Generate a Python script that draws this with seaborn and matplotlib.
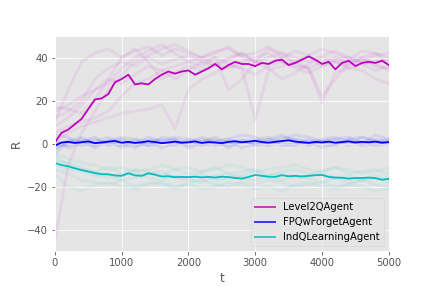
import numpy as np
import pandas as pd
import matplotlib
matplotlib.use('Agg')
import matplotlib.pyplot as plt
import seaborn as sns

plt.style.use('ggplot')

agents = ['Level2QAgent', 'FPQwForgetAgent', 'IndQLearningAgent']
colors = {'Level2QAgent': 'm', 'FPQwForgetAgent': 'b', 'IndQLearningAgent': 'c'}

# mean curves, every 100 steps
t_mean = list(range(0, 5001, 100))
level2_mean = [0.5, 5, 6.5, 9, 11.5, 16, 20.5, 21, 23, 28.5, 30, 32, 27.5, 28, 27.5,
               30, 32, 33.5, 32.5, 33.5, 34, 32, 33.5, 35, 37, 34.5, 36.5, 38, 37, 37,
               36, 37.5, 37, 38.5, 39, 36.5, 37.5, 39, 40.5, 39, 37, 38, 34.5, 37.5,
               38.5, 36, 37.5, 38, 37.5, 38.5, 36.5]
fpq_mean = [-1, 0.5, 0.8, 0.3, 0.6, 1.0, 0.2, 0.5, 0.9, 1.2, 0.4, 0.8, 0.3, 0.6, 1.1,
            0.7, 0.2, 0.5, 0.9, 0.4, 0.6, 1.0, 0.3, 0.7, 0.5, 0.2, 0.8, 1.1, 0.6, 0.9,
            1.3, 0.7, 0.4, 0.8, 1.2, 1.5, 0.9, 0.6, 0.3, 0.8, 0.5, 0.9, 0.4, 0.7, 1.0,
            0.5, 0.8, 0.6, 0.9, 0.4, 0.7]
indq_mean = [-9, -10, -10.6, -11.5, -12.3, -13, -13.7, -14.2, -14.3, -14.8, -15, -13.8,
             -14.8, -15, -13.8, -14.5, -15.3, -15.2, -15.6, -15.5, -15.6, -15.4, -15.7,
             -15.5, -15.8, -15.4, -15.6, -16, -16.3, -15.5, -14.6, -15, -15.4, -15.5,
             -14.7, -15.2, -15, -15.3, -15, -14.7, -14.6, -15.5, -15.8, -15.9, -16.3,
             -16, -16, -15.8, -16.1, -16.8, -16.4]

# individual runs, every 200 steps
t_runs = list(range(0, 5001, 200))
level2_runs = [
    [10, 25, 38, 42, 44, 40, 43, 45, 41, 44, 42, 40, 43, 44, 41, 42, 45, 40, 43, 41, 44, 42, 39, 43, 42, 40],
    [12, 15, 20, 30, 35, 38, 36, 40, 37, 39, 41, 38, 36, 39, 42, 38, 37, 40, 38, 41, 36, 39, 40, 37, 38, 39],
    [5, 8, 10, 12, 15, 22, 28, 30, 34, 36, 38, 40, 37, 35, 38, 40, 42, 38, 36, 35, 38, 40, 37, 39, 36, 35],
    [0, 5, 8, 10, 12, 14, 15, 16, 18, 7, 25, 30, 33, 36, 35, 11, 34, 36, 38, 35, 19, 33, 35, 34, 30, 28],
    [-45, -10, 5, 15, 25, 32, 38, 41, 44, 46, 43, 40, 42, 45, 40, 38, 44, 42, 40, 38, 41, 43, 40, 38, 41, 42],
    [15, 18, 22, 25, 28, 35, 40, 43, 46, 42, 38, 36, 40, 25, 30, 38, 40, 42, 37, 35, 22, 30, 38, 40, 42, 37],
    [8, 12, 18, 25, 30, 28, 32, 36, 34, 30, 34, 38, 40, 37, 35, 32, 36, 38, 35, 33, 36, 38, 35, 37, 34, 36],
    [17, 16, 14, 20, 30, 40, 44, 38, 30, 33, 36, 34, 37, 40, 42, 38, 35, 30, 33, 37, 40, 38, 36, 40, 37, 34],
]
fpq_runs = [
    [-3, 2, 1, 3, -1, 2, 0, 3, 1, -1, 2, 1, 3, 0, 2, -1, 1, 3, 2, 0, 1, 2, -1, 3, 1, 2],
    [2, -2, 0, -1, 2, -2, 1, -1, 0, 2, -2, 0, -1, 1, -2, 0, 2, -1, 0, 1, -2, 0, 1, -1, 0, 1],
    [-5, 1, 3, 0, 1, 3, 2, -1, 3, 2, 0, 3, 1, 2, 4, 3, 0, 2, 4, 3, 1, 2, 3, 0, 2, 1],
    [0, -1, 1, 2, 0, -1, 2, 1, -2, 0, 1, 2, 0, -1, 1, 2, 3, 0, -1, 2, 1, 0, 2, 3, 1, 0],
    [4, 3, -1, 1, 3, 0, -2, 2, 1, 3, 2, -1, 1, 2, 0, 1, 2, 4, 1, -1, 2, 3, 1, 0, 4, 2],
    [-2, 0, 2, -2, 1, 2, -1, 0, 2, 1, -1, 1, 2, -2, 1, 0, -1, 1, 2, 1, 0, -1, 2, 1, -1, 0],
]
indq_runs = [
    [-6, -10, -12, -13, -11, -14, -12, -13, -15, -12, -14, -13, -11, -14, -13, -12, -15, -13, -12, -14, -13, -11, -14, -13, -12, -14],
    [-12, -14, -17, -18, -19, -17, -20, -18, -19, -21, -18, -17, -19, -20, -18, -19, -17, -18, -20, -19, -18, -20, -19, -17, -19, -20],
    [-8, -9, -11, -14, -16, -15, -13, -16, -17, -15, -16, -14, -17, -16, -15, -13, -16, -17, -15, -16, -18, -16, -15, -17, -16, -18],
    [-10, -12, -13, -15, -14, -17, -16, -14, -13, -16, -17, -18, -15, -14, -16, -17, -15, -14, -16, -15, -14, -16, -18, -17, -15, -16],
    [-5, -7, -9, -10, -12, -11, -13, -12, -10, -12, -11, -13, -12, -10, -11, -13, -12, -11, -10, -12, -13, -11, -12, -14, -13, -11],
    [-14, -20, -22, -19, -18, -20, -21, -19, -18, -20, -19, -21, -20, -18, -19, -21, -20, -22, -19, -18, -20, -21, -19, -20, -22, -21],
]

rows = []
for agent, runs in zip(agents, [level2_runs, fpq_runs, indq_runs]):
    for i, run in enumerate(runs):
        for t, r in zip(t_runs, run):
            rows.append((agent, i, t, r))
runs_df = pd.DataFrame(rows, columns=['agent', 'run', 't', 'R'])

mean_df = pd.concat([
    pd.DataFrame({'agent': a, 't': t_mean, 'R': m})
    for a, m in zip(agents, [level2_mean, fpq_mean, indq_mean])
])

fig, ax = plt.subplots(figsize=(6, 4), dpi=72)
plt.subplots_adjust(left=0.127, right=0.9, top=0.875, bottom=0.128)

sns.lineplot(data=runs_df, x='t', y='R', hue='agent', units='run', estimator=None,
             palette=colors, alpha=0.07, lw=3, legend=False, ax=ax)
sns.lineplot(data=mean_df, x='t', y='R', hue='agent', palette=colors, lw=1.8, ax=ax)

ax.set_xlim(0, 5000)
ax.set_ylim(-50, 50)
ax.set_yticks([-40, -20, 0, 20, 40])
ax.set_xlabel('t')
ax.set_ylabel('R')
leg = ax.legend(loc='lower right')
for h in leg.get_lines():
    h.set_alpha(0.75)
    h.set_linewidth(2)
plt.savefig('out.png', dpi=72)
